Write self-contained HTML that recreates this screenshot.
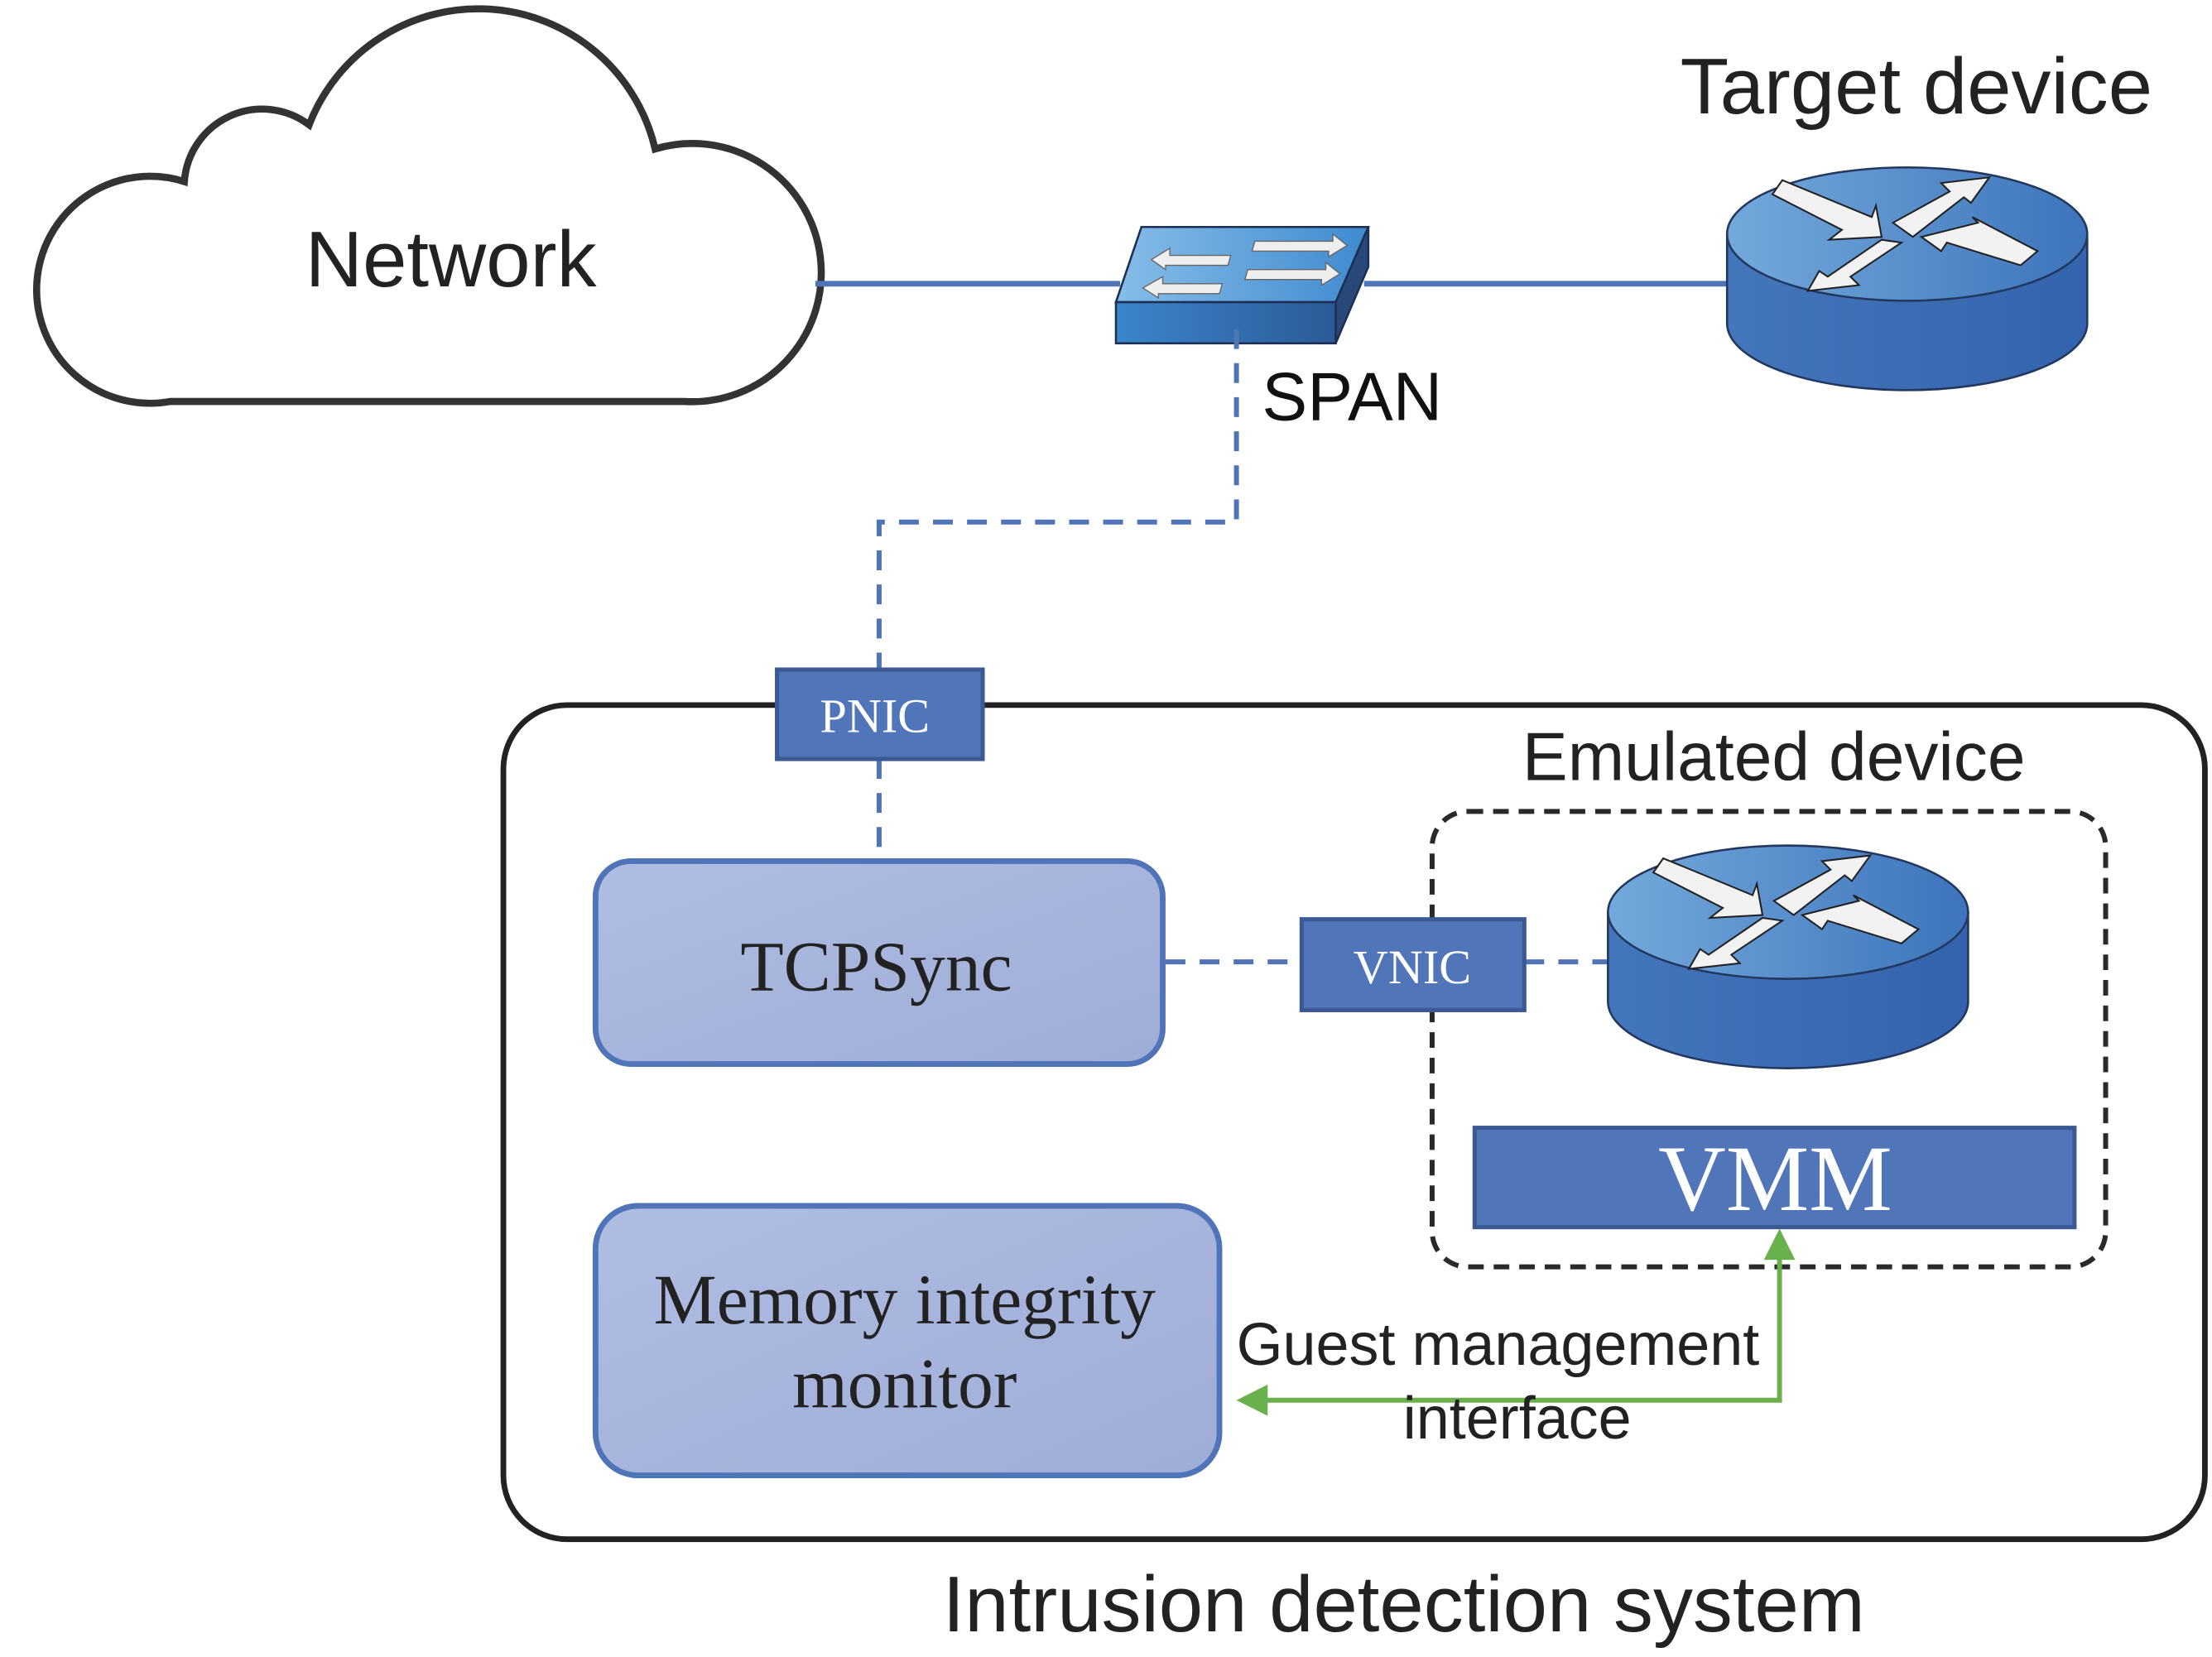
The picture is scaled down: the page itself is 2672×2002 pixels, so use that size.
<!DOCTYPE html>
<html><head><meta charset="utf-8"><style>html,body{margin:0;padding:0;background:#fff}svg{display:block}</style></head>
<body>
<svg width="2672" height="2002" viewBox="0 0 1560 1168" preserveAspectRatio="none" xmlns="http://www.w3.org/2000/svg">
<defs>
<linearGradient id="rt" x1="0" x2="1" y1="0" y2="0"><stop offset="0" stop-color="#74a9dc"/><stop offset="1" stop-color="#3d74bb"/></linearGradient>
<linearGradient id="rs" x1="0" x2="1"><stop offset="0" stop-color="#4476bb"/><stop offset="1" stop-color="#3463ad"/></linearGradient>
<linearGradient id="sw" x1="0" x2="1"><stop offset="0" stop-color="#86bde8"/><stop offset="1" stop-color="#3f8ad0"/></linearGradient>
<linearGradient id="swf" x1="0" x2="1"><stop offset="0" stop-color="#3b86cb"/><stop offset="1" stop-color="#2c5a98"/></linearGradient>
<linearGradient id="box" x1="0" x2="1" y1="0" y2="1"><stop offset="0" stop-color="#b0bde3"/><stop offset="1" stop-color="#9eadd8"/></linearGradient>
<g id="router">
<path d="M-127,0 L-127,63 A127,47 0 0 0 127,63 L127,0 Z" fill="url(#rs)" stroke="#22385e" stroke-width="1.5"/>
<ellipse cx="0" cy="0" rx="127" ry="47" fill="url(#rt)" stroke="#22385e" stroke-width="1.5"/>
<g fill="#f2f2f2" stroke="#222" stroke-width="1.2">
<path d="M-95,-28 L-88,-38 L-25,-12 L-22,-20 L-18,2 L-55,4 L-46,-3 Z"/>
<path d="M-10,-8 L30,-30 L24,-36 L58,-40 L45,-22 L40,-26 L4,2 Z"/>
<path d="M10,2 L50,-8 L46,-12 L92,12 L80,22 L28,6 L24,12 Z"/>
<path d="M-4,6 L-40,30 L-34,36 L-70,40 L-62,26 L-56,30 L-18,4 Z"/>
</g>
</g>
</defs>
<!-- cloud -->
<path d="M120,283 A80,80 0 1 1 130,128 A55,55 0 0 1 218,88 A128,128 0 0 1 462,105 A91,91 0 1 1 483,283 Z" fill="#fff" stroke="#333" stroke-width="5"/>
<text x="318" y="202" font-family="Liberation Sans, sans-serif" font-size="56" text-anchor="middle" fill="#222">Network</text>
<!-- lines -->
<line x1="575" y1="200" x2="790" y2="200" stroke="#4f74b8" stroke-width="4"/>
<line x1="962" y1="200" x2="1220" y2="200" stroke="#4f74b8" stroke-width="4"/>
<!-- switch -->
<path d="M787,213 L805,160 L965,160 L942,213 Z" fill="url(#sw)" stroke="#1e2f55" stroke-width="1.5"/>
<path d="M942,213 L965,160 L965,188 L942,242 Z" fill="#284878" stroke="#1e2f55" stroke-width="1.5"/>
<rect x="787" y="213" width="155" height="29" fill="url(#swf)" stroke="#1e2f55" stroke-width="1.5"/>
<g fill="#eee" stroke="#666" stroke-width="0.8">
<path d="M885,170 L940,170 L940,165 L950,173 L937,181 L937,177 L883,177 Z"/>
<path d="M880,190 L935,190 L935,185 L945,193 L932,201 L932,197 L878,197 Z"/>
<path d="M868,180 L825,180 L825,175 L812,183 L822,190 L822,187 L866,187 Z"/>
<path d="M862,200 L820,200 L820,195 L806,203 L817,210 L817,207 L860,207 Z"/>
</g>
<text x="890" y="296" font-family="Liberation Sans, sans-serif" font-size="48" fill="#111">SPAN</text>
<!-- SPAN dashed -->
<path d="M872,232 L872,368 L620,368 L620,472" fill="none" stroke="#4f74b8" stroke-width="3.5" stroke-dasharray="14,10"/>
<!-- target device -->
<text x="1518" y="80" font-family="Liberation Sans, sans-serif" font-size="56" text-anchor="end" fill="#222">Target device</text>
<use href="#router" x="1345" y="165"/>
<!-- IDS -->
<rect x="355" y="497" width="1200" height="588" rx="45" fill="none" stroke="#222" stroke-width="4"/>
<text x="990" y="1150" font-family="Liberation Sans, sans-serif" font-size="56" text-anchor="middle" fill="#222">Intrusion detection system</text>
<!-- PNIC -->
<line x1="620" y1="535" x2="620" y2="605" stroke="#4f74b8" stroke-width="3.5" stroke-dasharray="14,10"/>
<rect x="548" y="472" width="145" height="63" fill="#5076b9" stroke="#3b5a94" stroke-width="3"/>
<text x="617" y="516" font-family="Liberation Serif, serif" font-size="34" text-anchor="middle" fill="#fff">PNIC</text>
<!-- emulated -->
<text x="1251" y="550" font-family="Liberation Sans, sans-serif" font-size="48" text-anchor="middle" fill="#222">Emulated device</text>
<rect x="1010" y="572" width="475" height="321" rx="25" fill="none" stroke="#2a2a2a" stroke-width="3.5" stroke-dasharray="11,7"/>
<!-- TCPSync -->
<rect x="420" y="607" width="400" height="143" rx="25" fill="url(#box)" stroke="#4f74b8" stroke-width="4"/>
<text x="618" y="698" font-family="Liberation Serif, serif" font-size="50" text-anchor="middle" fill="#222">TCPSync</text>
<line x1="822" y1="678" x2="918" y2="678" stroke="#4f74b8" stroke-width="3.5" stroke-dasharray="14,10"/>
<line x1="1075" y1="678" x2="1135" y2="678" stroke="#4f74b8" stroke-width="3.5" stroke-dasharray="14,10"/>
<rect x="918" y="648" width="157" height="64" fill="#5076b9" stroke="#3b5a94" stroke-width="3"/>
<text x="996" y="693" font-family="Liberation Serif, serif" font-size="34" text-anchor="middle" fill="#fff">VNIC</text>
<use href="#router" x="1261" y="643"/>
<!-- VMM -->
<rect x="1040" y="795" width="423" height="70" fill="#5076b9" stroke="#3b5a94" stroke-width="3"/>
<text x="1252" y="853" font-family="Liberation Serif, serif" font-size="66" text-anchor="middle" fill="#fff">VMM</text>
<!-- memory -->
<rect x="420" y="850" width="440" height="190" rx="30" fill="url(#box)" stroke="#4f74b8" stroke-width="4"/>
<text x="638" y="933" font-family="Liberation Serif, serif" font-size="50" text-anchor="middle" fill="#222">Memory integrity</text>
<text x="638" y="992" font-family="Liberation Serif, serif" font-size="50" text-anchor="middle" fill="#222">monitor</text>
<!-- green -->
<path d="M1255,885 L1255,987 L890,987" fill="none" stroke="#6ab04c" stroke-width="3.5"/>
<path d="M1255,866 L1244,888 L1266,888 Z" fill="#6ab04c"/>
<path d="M872,987 L894,976 L894,998 Z" fill="#6ab04c"/>
<text x="872" y="962" font-family="Liberation Sans, sans-serif" font-size="42" fill="#222">Guest management</text>
<text x="1070" y="1014" font-family="Liberation Sans, sans-serif" font-size="42" text-anchor="middle" fill="#222">interface</text>
</svg>
</body></html>
